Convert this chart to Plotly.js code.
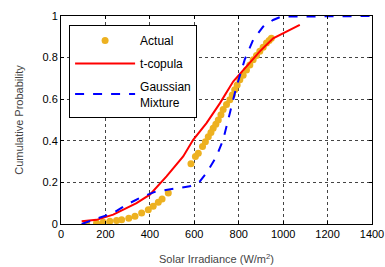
<!DOCTYPE html>
<html><head><meta charset="utf-8">
<script src="https://cdn.plot.ly/plotly-3.0.1.min.js"></script>
<style>html,body{margin:0;padding:0;background:#fff}#c{width:385px;height:267px}</style>
</head><body><div id="c"></div>
<script>
const actualX = [115,160,190,220,250,273,305,333,363,393,415,438,455,483,585,605,618,637,650,663,675,685,697,708,720,730,745,760,771,782,793,805,820,835,850,865,880,895,910,925,937,947];
const actualY = [0.0,0.005,0.008,0.013,0.017,0.02,0.028,0.037,0.053,0.069,0.085,0.104,0.12,0.149,0.29,0.325,0.34,0.373,0.395,0.42,0.44,0.46,0.48,0.50,0.525,0.55,0.575,0.597,0.62,0.645,0.668,0.693,0.715,0.74,0.765,0.79,0.81,0.83,0.85,0.87,0.882,0.893];
const tcopX = [93,160,235,295,340,400,475,550,595,655,715,775,835,895,955,1015,1075];
const tcopY = [0.013,0.02,0.045,0.075,0.1,0.141,0.229,0.325,0.405,0.485,0.58,0.685,0.757,0.83,0.893,0.925,0.957];
const gmmX = [93,175,235,295,370,430,505,580,625,655,700,730,760,790,827,865,910,955,992,1400];
const gmmY = [0.0,0.029,0.053,0.093,0.133,0.157,0.168,0.181,0.205,0.245,0.325,0.405,0.533,0.66,0.79,0.885,0.949,0.981,0.997,1.0];
const xTicks = [0,200,400,600,800,1000,1200,1400];
const yTicks = [0,0.2,0.4,0.6,0.8,1];
const yTickText = ['0','0.2','0.4','0.6','0.8','1'];

const traces = [
  {x: actualX, y: actualY, mode: 'markers', name: 'Actual', legendgroup: 'a',
   marker: {color: '#EDB120', size: 7}},
  {x: tcopX, y: tcopY, mode: 'lines', name: 't-copula', legendgroup: 'b',
   line: {color: '#FF0000', width: 2}},
  {x: gmmX, y: gmmY, mode: 'lines', name: 'Gaussian<br>Mixture', legendgroup: 'c',
   line: {color: '#0000FF', width: 2, dash: 'dash'}}
];
const axisCommon = {
  showline: true, linecolor: '#000', linewidth: 1, mirror: 'ticks',
  ticks: 'inside', ticklen: 3, tickcolor: '#000',
  showgrid: true, gridcolor: '#444', griddash: 'dot', gridwidth: 1,
  zeroline: false, tickfont: {family: 'Liberation Sans, Arial', size: 11, color: '#000'}
};
const layout = {
  width: 385, height: 267,
  margin: {l: 61, r: 13, t: 16, b: 43},
  paper_bgcolor: '#fff', plot_bgcolor: '#fff',
  showlegend: true,
  font: {family: 'Liberation Sans, Arial', size: 11, color: '#000'},
  xaxis: Object.assign({}, axisCommon, {range: [0, 1400], tickvals: xTicks,
    title: {text: 'Solar Irradiance (W/m<sup>2</sup>)', font: {size: 11, color: '#444'}, standoff: 16}}),
  yaxis: Object.assign({}, axisCommon, {range: [0, 1], tickvals: yTicks, ticktext: yTickText,
    title: {text: 'Cumulative Probability', font: {size: 11, color: '#444'}, standoff: 16}}),
  legend: {x: 0.026, y: 0.957, xanchor: 'left', yanchor: 'top',
    bordercolor: '#000', borderwidth: 1, bgcolor: '#fff',
    font: {size: 12, color: '#000'}, itemwidth: 60, tracegroupgap: 4}
};
Plotly.newPlot('c', traces, layout, {staticPlot: true, displayModeBar: false});
</script></body></html>
